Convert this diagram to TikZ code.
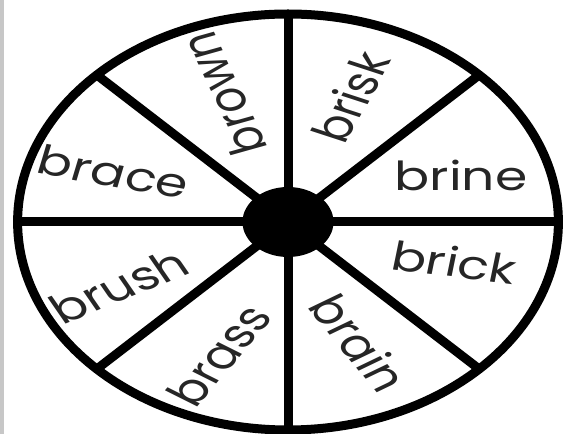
\documentclass[tikz,border=0pt]{standalone}
\usepackage{fontspec}
\setmainfont{Poppins}
\begin{document}
\begin{tikzpicture}[x=1pt,y=1pt]
\useasboundingbox (0,0) rectangle (563,434);
\fill[black!22] (0,0) rectangle (4,434);
\begin{scope}[shift={(288,212)}, xscale=1.3, transform shape]
\tikzset{
  thick line/.style={line width=9pt, line cap=butt},
  word/.style={font=\fontsize{40}{48}\selectfont, inner sep=0pt, text=black!85}
}
\coordinate (c) at (0,0);
\foreach \a in {0,45,...,315} { \coordinate (e\a) at (\a:208); }
\foreach \a in {0,45,...,315} { \draw[thick line] (c) -- (e\a); }
\draw[thick line] (c) circle[radius=208];
\node[circle, fill=black, minimum size=70pt, inner sep=0pt] (hub) at (c) {};
\node[word, rotate=110] (brown) at (-50,128) {brown};
\node[word, rotate=67] (brisk) at (48,125) {brisk};
\node[word, rotate=-13] (brace) at (-134,50) {brace};
\node[word, rotate=0] (brine) at (133,47) {brine};
\node[word, rotate=-9] (brick) at (128,-40) {brick};
\node[word, rotate=28] (brush) at (-130,-64) {brush};
\node[word, rotate=57] (brass) at (-53,-133) {brass};
\node[word, rotate=-58] (brain) at (55,-121) {brain};
\end{scope}
\end{tikzpicture}
\end{document}
